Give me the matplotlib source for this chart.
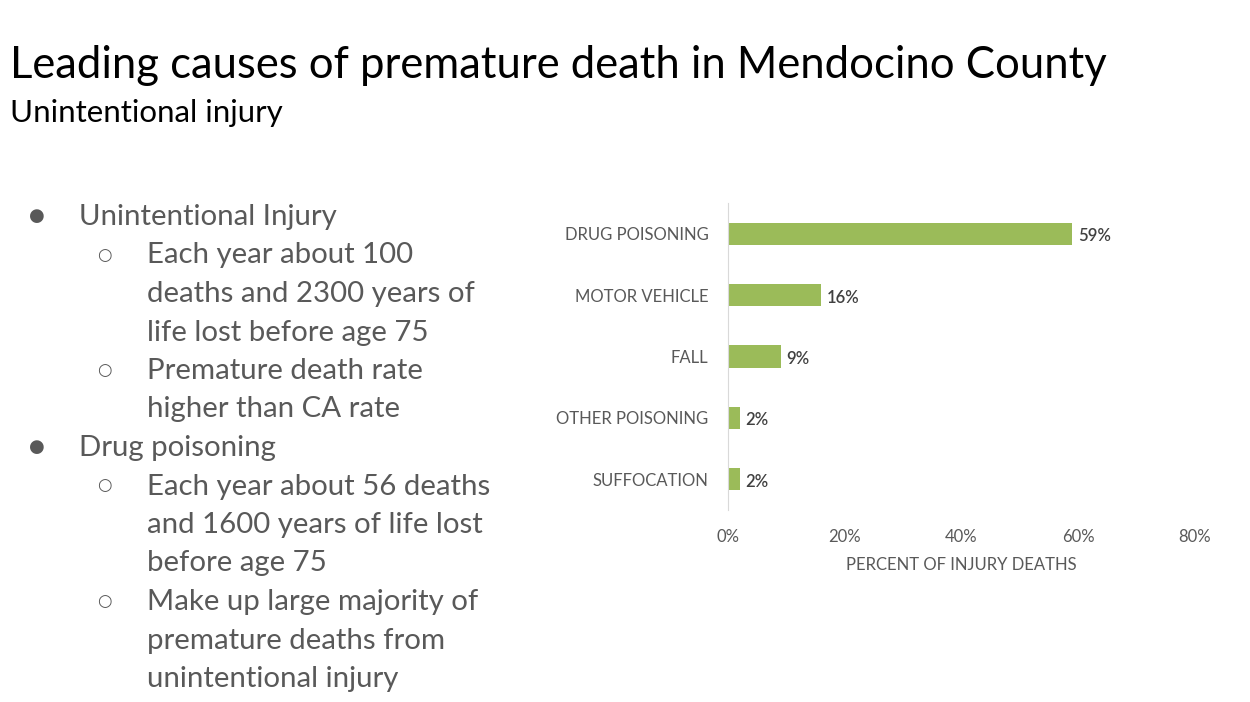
import matplotlib.pyplot as plt
import numpy as np

plt.rcParams['font.family'] = ['Lato', 'DejaVu Sans']

# data
causes = ['DRUG POISONING', 'MOTOR VEHICLE', 'FALL', 'OTHER POISONING', 'SUFFOCATION']
percent = [59, 16, 9, 2, 2]
xticks = [0, 20, 40, 60, 80]

title = 'Leading causes of premature death in Mendocino County'
subtitle = 'Unintentional injury'
bullets = [
    (1, 'Unintentional Injury'),
    (2, 'Each year about 100'),
    (0, 'deaths and 2300 years of'),
    (0, 'life lost before age 75'),
    (2, 'Premature death rate'),
    (0, 'higher than CA rate'),
    (1, 'Drug poisoning'),
    (2, 'Each year about 56 deaths'),
    (0, 'and 1600 years of life lost'),
    (0, 'before age 75'),
    (2, 'Make up large majority of'),
    (0, 'premature deaths from'),
    (0, 'unintentional injury'),
]

W, H = 1250, 702
fig = plt.figure(figsize=(W / 100, H / 100), dpi=100)
gray = '#595959'

def fx(px):
    return px / W

def fy(py):
    return 1 - py / H

fig.text(fx(10), fy(66), title, fontsize=31.4, color='black', va='center')
fig.text(fx(10), fy(113), subtitle, fontsize=22.5, color='black', va='center')

# bullet list
y0, dy = 217, 38.5
for i, (lvl, txt) in enumerate(bullets):
    y = y0 + i * dy
    if lvl == 1:
        fig.text(fx(37), fy(y - 1), '\u25cf', fontsize=13, color=gray,
                 ha='center', va='center', family='DejaVu Sans')
    elif lvl == 2:
        fig.text(fx(104), fy(y - 1), '\u25cb', fontsize=12, color=gray,
                 ha='center', va='center', family='DejaVu Sans')
    x = 79 if lvl == 1 else 147
    fig.text(fx(x), fy(y), txt, fontsize=21.2, color=gray, va='center')

# bar chart
ax = fig.add_axes([fx(728), fy(510), fx(1195) - fx(728), fy(203) - fy(510)])
ypos = np.arange(len(causes))
bars = ax.barh(ypos, percent, height=0.36, color='#9BBB59')
for b, v in zip(bars, percent):
    ax.text(b.get_width() + 0.9, b.get_y() + b.get_height() / 2 + 0.04, f'{v}%',
            va='center', ha='left', fontsize=12, color='#404040', fontweight='semibold')
ax.set_ylim(len(causes) - 0.5, -0.5)
ax.set_xlim(0, 80)
ax.set_yticks(ypos)
ax.set_yticklabels(causes, fontsize=12, color=gray)
ax.set_xticks(xticks)
ax.set_xticklabels([f'{t}%' for t in xticks], fontsize=12, color=gray)
ax.tick_params(axis='both', length=0)
ax.tick_params(axis='x', pad=14)
ax.tick_params(axis='y', pad=14)
for s in ['top', 'right', 'bottom']:
    ax.spines[s].set_visible(False)
ax.spines['left'].set_color('#d9d9d9')
ax.set_xlabel('PERCENT OF INJURY DEATHS', fontsize=12, color=gray, labelpad=8)

fig.savefig('out.png', dpi=100, facecolor='white')
